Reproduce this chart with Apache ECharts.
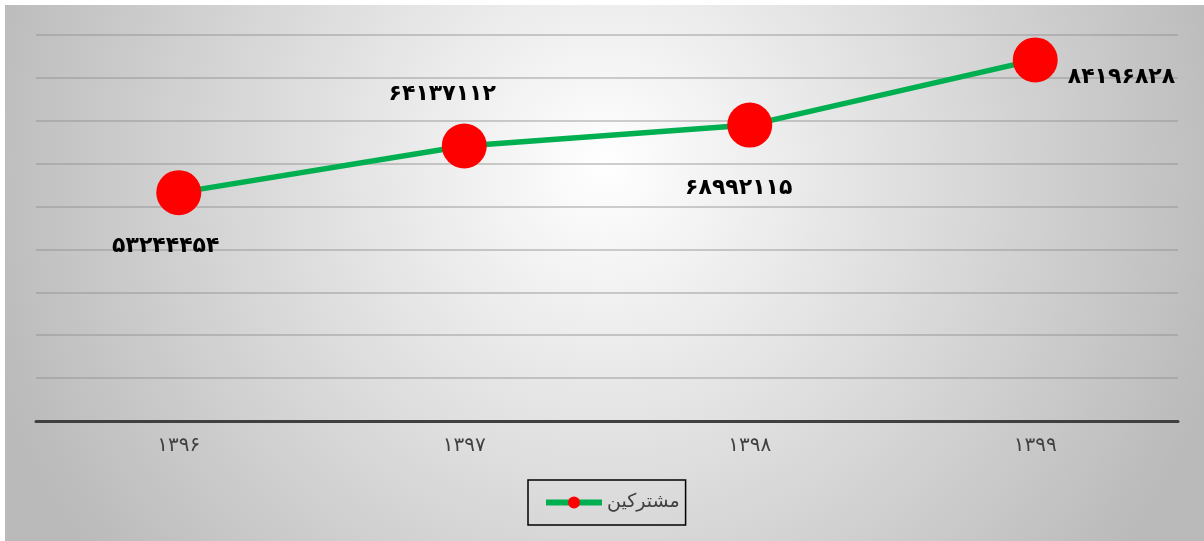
<!DOCTYPE html>
<html>
<head>
<meta charset="utf-8">
<script src="https://cdn.jsdelivr.net/npm/echarts@6/dist/echarts.min.js"></script>
<style>
html,body{margin:0;padding:0;background:#fff;}
#c{position:absolute;left:5px;top:5px;width:1199px;height:536px;}
</style>
</head>
<body>
<div id="c"></div>
<script>
const categories = ['۱۳۹۶', '۱۳۹۷', '۱۳۹۸', '۱۳۹۹'];
const seriesName = 'مشترکین';
const values = [53244454, 64137112, 68992115, 84196828];

function toPersian(n) {
  const d = '۰۱۲۳۴۵۶۷۸۹';
  return String(n).replace(/[0-9]/g, c => d[+c]);
}

const labelCfg = [
  { position: 'bottom', distance: 20, offset: [-13, 0] },
  { position: 'top', distance: 18, offset: [-22, 0] },
  { position: 'bottom', distance: 30, offset: [-11, 0] },
  { position: 'right', distance: 10, offset: [0, 17] }
];

const chart = echarts.init(document.getElementById('c'));
chart.setOption({
  backgroundColor: {
    type: 'radial', x: 0.5, y: 0.3, r: 1.2,
    colorStops: [
      { offset: 0, color: '#ffffff' },
      { offset: 1, color: '#bababa' }
    ]
  },
  animation: false,
  grid: { left: 31, right: 26, top: 30, bottom: 120, containLabel: false },
  xAxis: {
    type: 'category',
    data: categories,
    boundaryGap: true,
    axisLine: { lineStyle: { color: '#404040', width: 3 } },
    axisTick: { show: false },
    axisLabel: {
      color: '#404040', fontSize: 20, margin: 15,
      fontFamily: 'DejaVu Sans'
    },
    splitLine: { show: false }
  },
  yAxis: {
    type: 'value',
    min: 0, max: 90000000, interval: 10000000,
    axisLine: { show: false },
    axisTick: { show: false },
    axisLabel: { show: false },
    splitLine: { lineStyle: { color: 'rgba(140,140,140,0.55)', width: 1.5 } }
  },
  legend: {
    bottom: 16,
    left: 523,
    data: [seriesName],
    borderColor: '#000',
    borderWidth: 1.5,
    padding: [13, 6, 13, 15],
    itemWidth: 56,
    itemHeight: 15,
    itemGap: 6,
    lineStyle: { width: 6 },
    textStyle: { color: '#404040', fontSize: 19, fontFamily: 'DejaVu Sans' }
  },
  series: [{
    name: seriesName,
    type: 'line',
    data: values.map((v, i) => ({
      value: v,
      label: Object.assign({ show: true }, labelCfg[i])
    })),
    symbol: 'circle',
    symbolSize: 45,
    lineStyle: { color: '#00b050', width: 5.5 },
    itemStyle: { color: '#ff0000' },
    label: {
      show: true,
      color: '#000',
      fontSize: 22,
      fontWeight: 'bold',
      fontFamily: 'DejaVu Sans',
      formatter: p => toPersian(p.value)
    }
  }]
});
</script>
</body>
</html>
